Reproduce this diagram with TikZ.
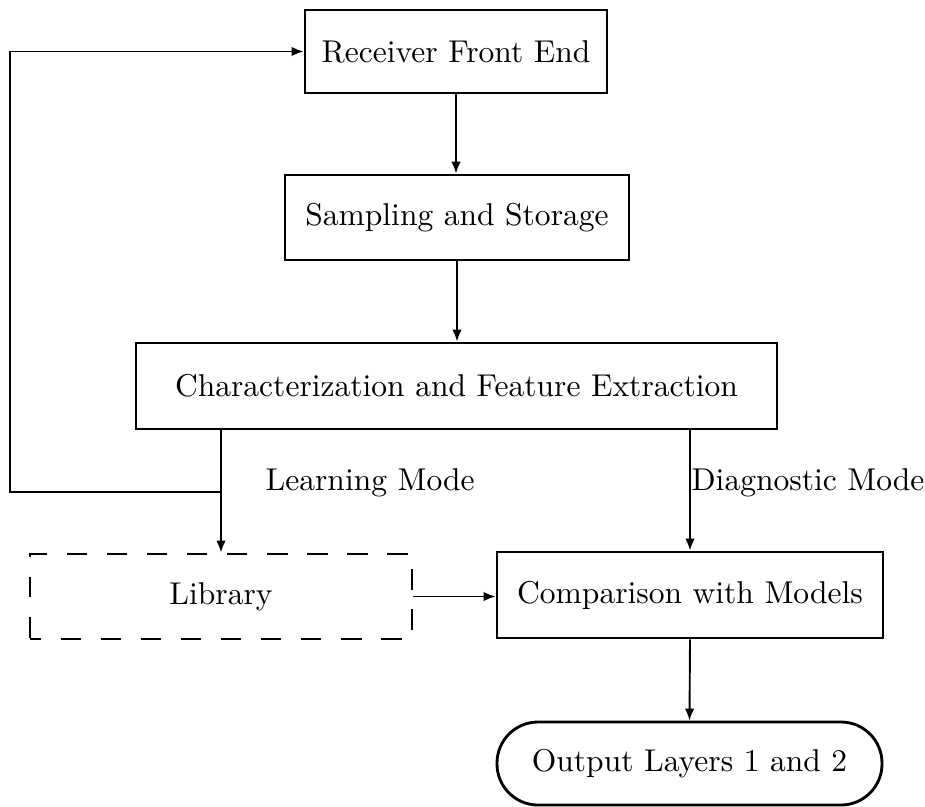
\documentclass[tikz,border=0pt]{standalone}
\usetikzlibrary{arrows.meta}
\def\pxu{0.317pt}
\begin{document}
\begin{tikzpicture}[x=0.317pt, y=-0.317pt,
  box/.style={draw, line width=0.9pt, inner sep=0pt, font=\normalsize},
  dbox/.style={draw, line width=0.9pt, inner sep=0pt, dash pattern=on 6.5pt off 6.2pt, dash phase=3pt},
  obox/.style={draw, line width=0.9pt, inner sep=0pt, rounded corners=13pt},
  conn/.style={line width=0.6pt, -{Latex[length=3.8pt,width=3pt]}},
  lbl/.style={inner sep=0pt, anchor=west}]
\useasboundingbox (0,0) rectangle (925,806);
\node[box, minimum width=302*\pxu, minimum height=83*\pxu] (rfe) at (456,51.5) {Receiver Front End};
\node[box, minimum width=344*\pxu, minimum height=85*\pxu] (sas) at (457,217.5) {Sampling and Storage};
\node[box, minimum width=641*\pxu, minimum height=86*\pxu] (chr) at (456.5,386) {Characterization and Feature Extraction};
\node[dbox, minimum width=382*\pxu, minimum height=85*\pxu] (lib) at (221,596.5) {Library};
\node[box, minimum width=386*\pxu, minimum height=86*\pxu] (cmp) at (690,595) {Comparison with Models};
\node[obox, minimum width=385*\pxu, minimum height=83*\pxu] (out) at (689.5,763.5) {Output Layers 1 and 2};
\node[lbl] (lm) at (265,483) {Learning Mode};
\node[lbl] (dm) at (691,483) {Diagnostic Mode};
\coordinate (fb) at (10,492);
\draw[conn] (rfe.south) -- (rfe.south |- sas.north);
\draw[conn] (sas.south) -- (sas.south |- chr.north);
\draw[conn] (lib.north |- chr.south) -- (lib.north);
\draw[conn] (lib.north |- fb) -- (fb) |- (rfe.west);
\draw[conn] (cmp.north |- chr.south) -- (cmp.north);
\draw[conn] (lib.east) -- (lib.east -| cmp.west);
\draw[conn] (cmp.south) -- (out.north);
\end{tikzpicture}
\end{document}
